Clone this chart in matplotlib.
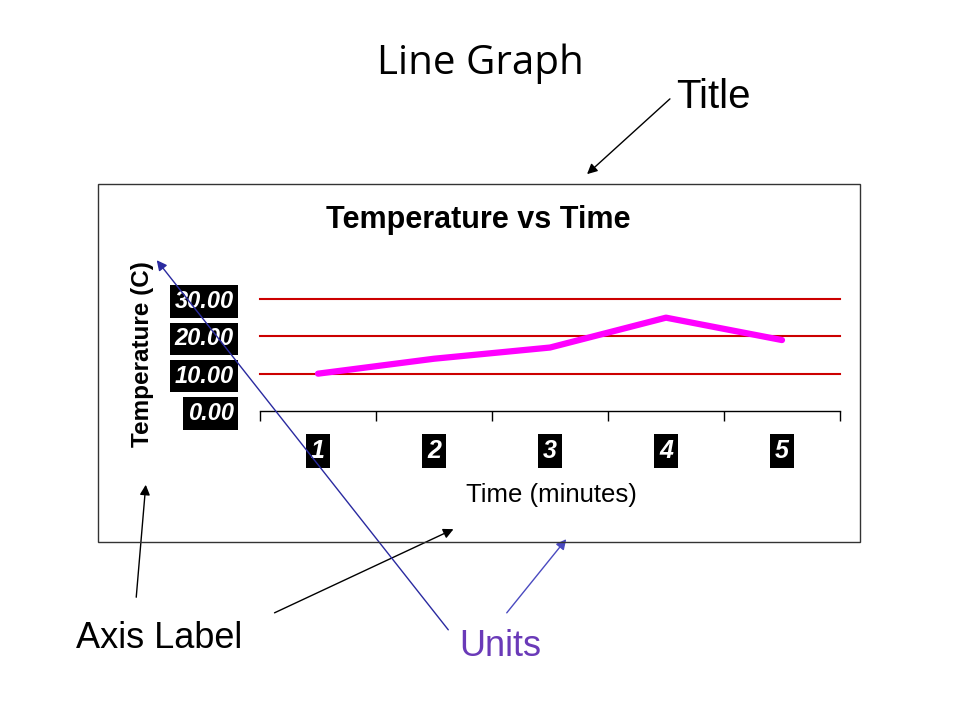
import matplotlib.pyplot as plt
import matplotlib.patches as patches

minutes = ['1', '2', '3', '4', '5']
temps = [10, 14, 17, 25, 19]
y_ticks = [0, 10, 20, 30]
y_tick_labels = ['0.00', '10.00', '20.00', '30.00']

plt.rcParams['font.family'] = ['Liberation Sans', 'DejaVu Sans']

fig = plt.figure(figsize=(9.6, 7.2), dpi=100)
W, H = 960, 720

def fx(x):
    return x / W

def fy(y):
    return 1 - y / H

# chart frame
fig.patches.append(patches.Rectangle((fx(98), fy(542)), fx(860) - fx(98), fy(184) - fy(542),
                                     transform=fig.transFigure, fill=False,
                                     edgecolor='#333333', linewidth=1))

ax = fig.add_axes([fx(260), fy(411), fx(840) - fx(260), fy(299) - fy(411)])
x = range(len(minutes))
ax.plot(x, temps, color='#ff00ff', linewidth=4.5, solid_capstyle='round', zorder=3, clip_on=False)
for v in y_ticks[1:]:
    ax.axhline(v, color='#cc0000', linewidth=1.5, zorder=1, clip_on=False)

ax.set_xlim(-0.5, len(minutes) - 0.5)
ax.set_ylim(0, 30)
for s in ['top', 'right', 'left']:
    ax.spines[s].set_visible(False)
ax.spines['bottom'].set_linewidth(1)

ax.set_xticks(list(x))
ax.set_xticklabels(minutes)
ax.set_xticks([i - 0.5 for i in range(len(minutes) + 1)], minor=True)
ax.tick_params(axis='x', which='major', length=0, pad=20)
ax.tick_params(axis='x', which='minor', length=7, direction='out', width=1)
ax.set_yticks(y_ticks)
ax.set_yticklabels(y_tick_labels)
ax.tick_params(axis='y', length=0, pad=19)

for lab in ax.get_xticklabels() + ax.get_yticklabels():
    lab.set_color('white')
    lab.set_fontweight('bold')
    lab.set_fontstyle('italic')
    lab.set_bbox(dict(facecolor='black', edgecolor='none', pad=2))
for lab in ax.get_xticklabels():
    lab.set_fontsize(18)
for lab in ax.get_yticklabels():
    lab.set_fontsize(17)

fig.text(fx(478), fy(220), 'Temperature vs Time', ha='center', va='center',
         fontsize=22, fontweight='bold')
fig.text(fx(143), fy(354), 'Temperature (C)', ha='center', va='center', rotation=90,
         fontsize=17.5, fontweight='bold')
fig.text(fx(551), fy(495), 'Time (minutes)', ha='center', va='center', fontsize=18.5)

# slide annotations
fig.text(fx(480), fy(64), 'Line Graph', ha='center', va='center', fontsize=29,
         family=['Open Sans', 'DejaVu Sans'])
fig.text(fx(713), fy(97), 'Title', ha='center', va='center', fontsize=29)
fig.text(fx(159), fy(638), 'Axis Label', ha='center', va='center', fontsize=26)
fig.text(fx(500), fy(646), 'Units', ha='center', va='center', fontsize=26, color='#6a3ab8')

def arrow(x0, y0, x1, y1, color):
    fig.add_artist(patches.FancyArrowPatch((fx(x0), fy(y0)), (fx(x1), fy(y1)),
                                           transform=fig.transFigure,
                                           arrowstyle='-|>,head_length=4,head_width=2',
                                           color=color, linewidth=1, mutation_scale=1.5))

arrow(672, 97, 585, 176, 'black')
arrow(136, 600, 146, 482, 'black')
arrow(272, 614, 456, 528, 'black')
arrow(450, 632, 155, 258, '#2a2aa0')
arrow(505, 615, 568, 537, '#4a4ac0')

fig.savefig('out.png', dpi=100)
